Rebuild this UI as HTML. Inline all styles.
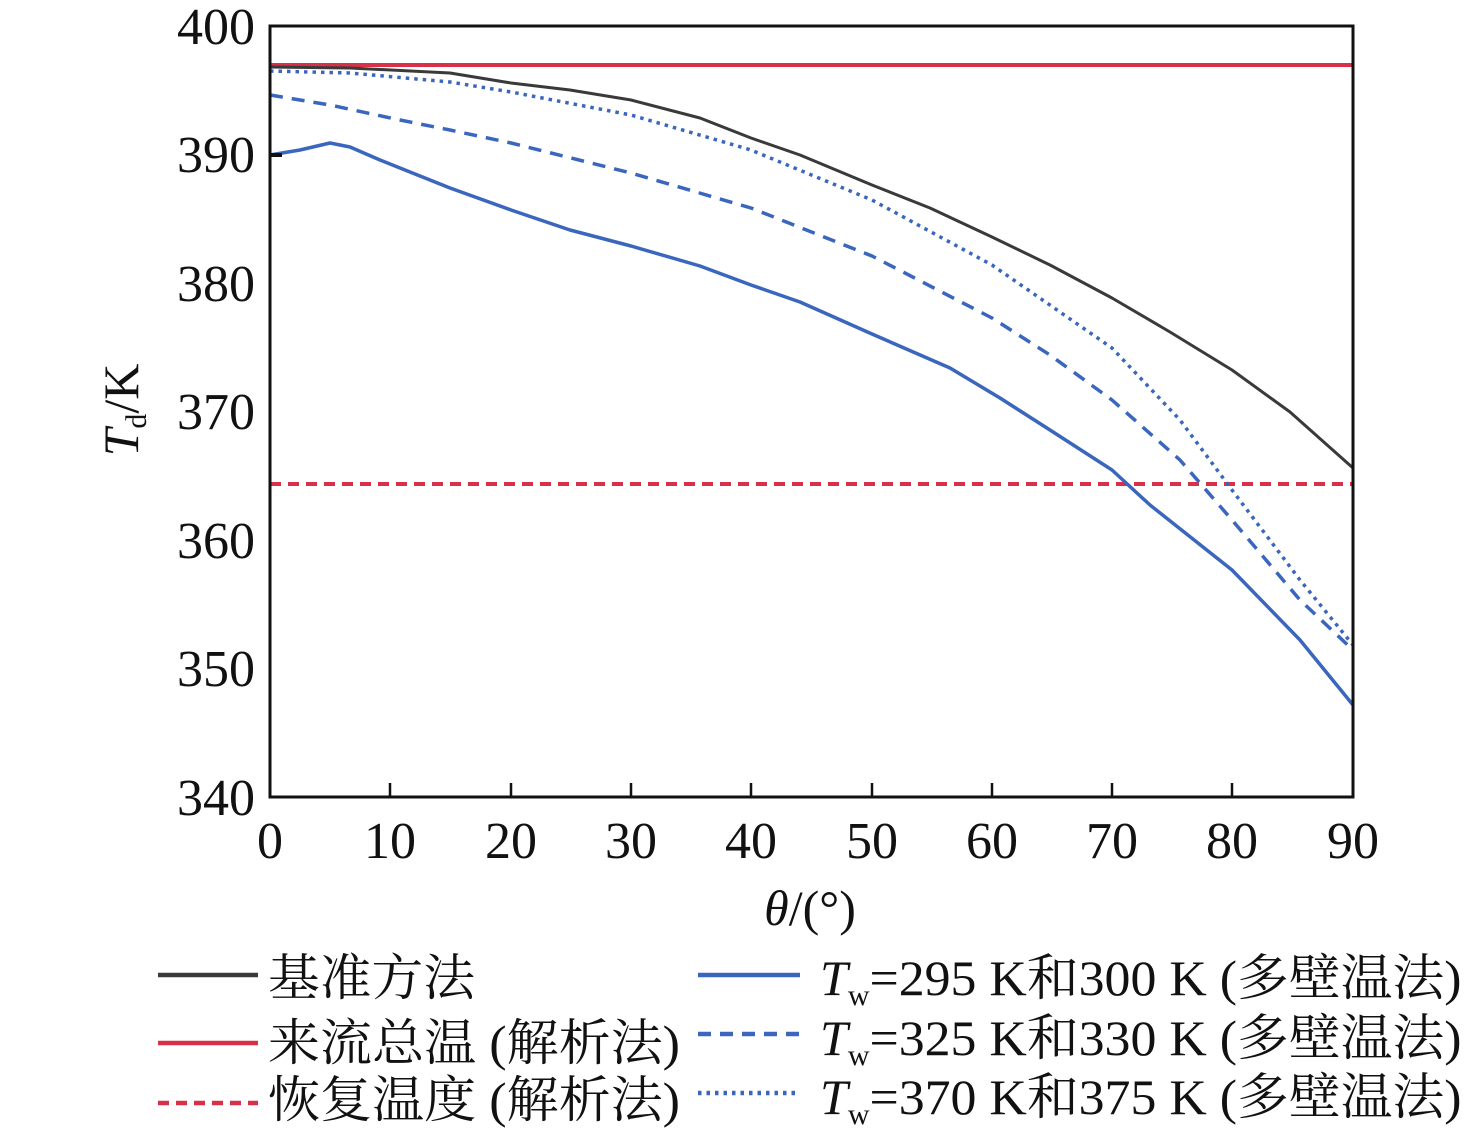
<!DOCTYPE html>
<html><head><meta charset="utf-8"><style>body{margin:0;background:#fff} text{font-family:"Liberation Serif","Noto Serif CJK SC",serif}</style></head><body>
<svg width="1476" height="1139" xmlns="http://www.w3.org/2000/svg">
<rect width="1476" height="1139" fill="#fff"/>
<g fill="none" stroke-width="3.5" stroke-linejoin="round">
<line x1="270" y1="65" x2="1353" y2="65" stroke="#d9304a" stroke-width="4"/>
<line x1="270" y1="484" x2="1353" y2="484" stroke="#d9304a" stroke-width="4" stroke-dasharray="11,7"/>
<polyline stroke="#3a3a3a" stroke-width="3" points="270,67 350,68 450,73 511,83 570,90 631,100 700,118 751,138 800,155 872,185 930,208 992,237 1050,265 1112,298 1170,332 1232,370 1290,412 1353,468"/>
<polyline stroke="#3b66be" points="270,155 300,150 330,143 350,147 380,160 400,168 450,188 511,210 570,230 631,246 700,266 751,285 800,302 872,334 950,368 1000,398 1050,430 1112,470 1150,505 1232,570 1300,640 1353,705"/>
<polyline stroke="#3b66be" stroke-dasharray="13,9" points="270,95 330,105 400,120 450,130 511,143 631,173 751,208 872,256 992,318 1050,355 1112,400 1180,460 1232,520 1300,600 1353,650"/>
<polyline stroke="#3b66be" stroke-dasharray="3.5,5" points="270,71 350,73 450,82 511,92 631,115 751,150 872,200 992,265 1112,348 1180,420 1232,490 1300,580 1353,645"/>
<path d="M270,155 h12" stroke="#111" stroke-width="4"/>
</g>
<rect x="270" y="26" width="1083" height="771" fill="none" stroke="#111" stroke-width="3"/>
<g stroke="#111" stroke-width="2.5">
<path d="M390,797v-14M511,797v-14M631,797v-14M751,797v-14M872,797v-14M992,797v-14M1112,797v-14M1232,797v-14"/>
</g>
<g font-size="52" fill="#111" text-anchor="middle">
<text x="270" y="858">0</text><text x="390" y="858">10</text><text x="511" y="858">20</text><text x="631" y="858">30</text><text x="751" y="858">40</text><text x="872" y="858">50</text><text x="992" y="858">60</text><text x="1112" y="858">70</text><text x="1232" y="858">80</text><text x="1353" y="858">90</text>
</g>
<g font-size="52" fill="#111" text-anchor="end">
<text x="255" y="44">400</text><text x="255" y="172">390</text><text x="255" y="301">380</text><text x="255" y="429">370</text><text x="255" y="558">360</text><text x="255" y="686">350</text><text x="255" y="815">340</text>
</g>
<text transform="translate(138,410) rotate(-90)" font-size="50" fill="#111" text-anchor="middle"><tspan font-style="italic">T</tspan><tspan font-size="30" dy="8">d</tspan><tspan dy="-8">/K</tspan></text>
<text x="810" y="925" font-size="50" fill="#111" text-anchor="middle"><tspan font-style="italic">θ</tspan>/(°)</text>
<g stroke-width="4.5" fill="none">
<line x1="158" y1="975" x2="258" y2="975" stroke="#3a3a3a"/>
<line x1="158" y1="1043" x2="258" y2="1043" stroke="#d9304a"/>
<line x1="158" y1="1103" x2="258" y2="1103" stroke="#d9304a" stroke-dasharray="11,7"/>
<line x1="698" y1="975" x2="800" y2="975" stroke="#3b66be"/>
<line x1="698" y1="1034" x2="800" y2="1034" stroke="#3b66be" stroke-dasharray="13,9"/>
<line x1="698" y1="1093" x2="800" y2="1093" stroke="#3b66be" stroke-dasharray="3.5,5"/>
</g>
<g font-size="50" fill="#111">
<text x="268" y="995" textLength="207" lengthAdjust="spacingAndGlyphs">基准方法</text>
<text x="268" y="1060" textLength="412" lengthAdjust="spacingAndGlyphs">来流总温 (解析法)</text>
<text x="268" y="1117" textLength="412" lengthAdjust="spacingAndGlyphs">恢复温度 (解析法)</text>
<text x="820" y="995"><tspan font-style="italic">T</tspan><tspan font-size="30" dy="10">w</tspan><tspan dy="-10" textLength="592" lengthAdjust="spacingAndGlyphs">=295 K和300 K (多壁温法)</tspan></text>
<text x="820" y="1055"><tspan font-style="italic">T</tspan><tspan font-size="30" dy="10">w</tspan><tspan dy="-10" textLength="592" lengthAdjust="spacingAndGlyphs">=325 K和330 K (多壁温法)</tspan></text>
<text x="820" y="1114"><tspan font-style="italic">T</tspan><tspan font-size="30" dy="10">w</tspan><tspan dy="-10" textLength="592" lengthAdjust="spacingAndGlyphs">=370 K和375 K (多壁温法)</tspan></text>
</g>
</svg>
</body></html>
